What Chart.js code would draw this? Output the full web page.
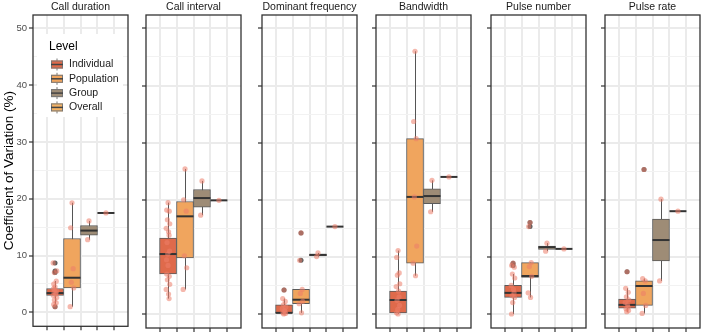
<!DOCTYPE html>
<html>
<head>
<meta charset="utf-8">
<script src="https://cdn.jsdelivr.net/npm/chart.js@4/dist/chart.umd.min.js"></script>
<style>
  body { margin: 0; background: #fff; }
  #wrap { position: relative; width: 709px; height: 334px; overflow: hidden; }
  #wrap canvas { position: absolute; top: 0; }
</style>
</head>
<body>
<div id="wrap"></div>
<script>
var panels = ['Call duration', 'Call interval', 'Dominant frequency', 'Bandwidth', 'Pulse number', 'Pulse rate'];
var levels = ['Individual', 'Population', 'Group', 'Overall'];
var levelColors = ['#DF6A4B', '#F0A55E', '#9E8C76', '#F4B365'];

// box stats per panel, one value per level
var q1 = [
    [3.0, 4.3, 13.6, 17.5],
    [7.0, 9.8, 18.7, 19.9],
    [0.0, 1.8, 10.15, 15.3],
    [0.0, 8.9, 19.3, 24.0],
    [2.9, 6.4, 11.3, 11.4],
    [1.0, 1.5, 9.3, 18.0]
];
var median = [
    [3.4, 6.1, 14.4, 17.5],
    [10.5, 17.1, 20.3, 19.9],
    [0.2, 2.5, 10.35, 15.3],
    [2.45, 20.5, 20.65, 24.0],
    [3.7, 6.65, 11.7, 11.4],
    [1.6, 4.9, 12.95, 18.0]
];
var q3 = [
    [4.2, 13.0, 15.3, 17.5],
    [13.3, 19.7, 21.8, 19.9],
    [1.6, 4.3, 10.5, 15.3],
    [4.0, 30.7, 21.9, 24.0],
    [5.0, 9.0, 11.9, 11.4],
    [2.6, 5.8, 16.6, 18.0]
];
var whiskerLow = [
    [1.4, 1.0, 12.8, 17.5],
    [2.7, 4.3, 17.3, 19.9],
    [0.0, 0.2, 10.05, 15.3],
    [0.0, 6.7, 17.9, 24.0],
    [0.0, 2.9, 11.0, 11.4],
    [0.4, 0.1, 5.8, 18.0]
];
var whiskerHigh = [
    [5.5, 19.3, 16.1, 17.5],
    [19.5, 25.4, 23.3, 19.9],
    [2.7, 4.3, 10.7, 15.3],
    [11.1, 46.0, 23.4, 24.0],
    [7.0, 9.0, 12.4, 11.4],
    [4.5, 6.2, 20.1, 18.0]
];
var outliers = [
    [[8.7, 7.3, 7.0, 1.0], [], [], []],
    [[], [], [], []],
    [[4.2], [14.2, 9.4], [], []],
    [[], [], [], []],
    [[8.9, 8.5], [16.0, 15.3], [], []],
    [[7.4], [25.3], [], []]
];
// raw observations drawn on top
var points = [
    [[1.0, 1.4, 1.7, 2.2, 2.6, 3.0, 3.2, 3.4, 3.6, 3.8, 4.0, 4.2, 4.5, 5.0, 5.5, 7.0, 7.3, 8.7], [19.3, 14.9, 7.7, 5.3, 4.3, 1.0], [16.1, 12.8], [17.5]],
    [[19.5, 18.2, 18.0, 16.5, 15.8, 15.0, 14.4, 13.8, 12.5, 11.0, 10.5, 9.5, 8.5, 7.0, 6.6, 6.0, 5.2, 4.3, 3.5, 2.7], [25.4, 20.0, 18.0, 10.2, 8.1, 4.3], [23.3, 17.3], [19.9]],
    [[4.2, 2.7, 2.2, 1.6, 1.2, 0.9, 0.6, 0.4, 0.2, 0.1, 0.0], [14.2, 9.4, 4.3, 3.6, 2.2, 1.8, 0.2], [10.7, 10.05], [15.3]],
    [[11.1, 9.9, 7.2, 6.8, 5.3, 4.8, 4.0, 3.0, 2.4, 1.5, 0.8, 0.2, 0.0], [46.0, 33.7, 30.7, 20.5, 11.9, 8.9, 6.7], [23.4, 17.9], [24.0]],
    [[8.9, 8.5, 8.2, 7.0, 6.3, 5.0, 4.3, 3.7, 3.2, 2.9, 2.0, 0.0], [16.0, 15.3, 9.0, 8.3, 6.6, 3.7, 2.9], [12.4, 11.0], [11.4]],
    [[7.4, 4.5, 3.8, 3.0, 2.5, 2.0, 1.6, 1.2, 0.9, 0.6, 0.4], [25.3, 6.2, 5.8, 3.6, 1.5, 0.1], [20.1, 5.8], [18.0]]
];
var yTicks = [0, 5, 10, 15, 20, 25, 30, 35, 40, 45, 50];
var yTitle = 'Coefficient of Variation (%)';
var legendTitle = 'Level';

// small fixed horizontal spread for the raw points (category units)
var jitter = [0, -0.08, 0.07, -0.04, 0.1, -0.11, 0.03, 0.06, -0.06, 0.09, -0.02, -0.09];

var panelLeft = [33, 146, 262, 376, 491, 605];
var panelWidth = 97;

Chart.defaults.font.family = "'Liberation Sans', Arial, sans-serif";

function isMajor(v) { return v % 10 === 0; }

function makePlugin(p) {
    return {
        id: 'boxExtras' + p,
        beforeDatasetDraw: function(chart, args) {
            if (args.meta.type !== 'bar') return;
            var xs = chart.scales.x, ys = chart.scales.y, ctx = chart.ctx;
            ctx.save();
            ctx.strokeStyle = '#555';
            ctx.lineWidth = 1;
            for (var j = 0; j < levels.length; j++) {
                var px = Math.round(xs.getPixelForValue(j)) + 0.5;
                ctx.beginPath();
                ctx.moveTo(px, ys.getPixelForValue(whiskerLow[p][j]));
                ctx.lineTo(px, ys.getPixelForValue(whiskerHigh[p][j]));
                ctx.stroke();
            }
            ctx.restore();
        },
        afterDatasetDraw: function(chart, args) {
            if (args.meta.type !== 'bar') return;
            var xs = chart.scales.x, ys = chart.scales.y, ctx = chart.ctx;
            ctx.save();
            ctx.strokeStyle = '#333';
            ctx.lineWidth = 2;
            for (var j = 0; j < levels.length; j++) {
                var px = xs.getPixelForValue(j);
                var py = ys.getPixelForValue(median[p][j]);
                ctx.beginPath();
                ctx.moveTo(px - 8.5, py);
                ctx.lineTo(px + 8.5, py);
                ctx.stroke();
            }
            ctx.restore();
        },
        afterDraw: function(chart) {
            var a = chart.chartArea, ctx = chart.ctx;
            ctx.save();
            if (p === 0) {
                // legend inside the first panel
                ctx.fillStyle = '#fff';
                ctx.fillRect(a.left + 4, 34, 86, 83);
                ctx.fillStyle = '#000';
                ctx.font = "12px 'Liberation Sans', Arial, sans-serif";
                ctx.textBaseline = 'middle';
                ctx.fillText(legendTitle, a.left + 16, 47);
                ctx.font = "10.5px 'Liberation Sans', Arial, sans-serif";
                for (var j = 0; j < levels.length; j++) {
                    var cy = 64.5 + j * 14.3;
                    var kx = a.left + 18;
                    ctx.strokeStyle = '#777';
                    ctx.lineWidth = 1;
                    ctx.beginPath();
                    ctx.moveTo(kx + 6, cy - 6);
                    ctx.lineTo(kx + 6, cy + 6);
                    ctx.stroke();
                    ctx.fillStyle = levelColors[j];
                    ctx.fillRect(kx, cy - 4, 12, 8);
                    ctx.strokeRect(kx + 0.5, cy - 3.5, 11, 7);
                    ctx.strokeStyle = '#444';
                    ctx.lineWidth = 1.5;
                    ctx.beginPath();
                    ctx.moveTo(kx, cy);
                    ctx.lineTo(kx + 12, cy);
                    ctx.stroke();
                    ctx.fillStyle = '#1a1a1a';
                    ctx.fillText(levels[j], kx + 18, cy);
                }
            }
            ctx.strokeStyle = '#333';
            ctx.lineWidth = 1.3;
            ctx.strokeRect(a.left, a.top, a.right - a.left, a.bottom - a.top);
            ctx.restore();
        }
    };
}

function buildPanel(p) {
    var axisW = p === 0 ? 33 : 5;
    var canvas = document.createElement('canvas');
    canvas.width = axisW + panelWidth + 2;
    canvas.height = 334;
    canvas.style.left = (panelLeft[p] - axisW) + 'px';
    document.getElementById('wrap').appendChild(canvas);

    var boxData = [], outlierData = [], pointData = [];
    for (var j = 0; j < levels.length; j++) {
        boxData.push({ x: j, y: [q1[p][j], q3[p][j]] });
        outliers[p][j].forEach(function(v) { outlierData.push({ x: j, y: v }); });
        points[p][j].forEach(function(v, k) {
            var dx = points[p][j].length > 1 ? jitter[k % jitter.length] : 0;
            pointData.push({ x: j + dx, y: v });
        });
    }

    new Chart(canvas.getContext('2d'), {
        type: 'bar',
        data: {
            datasets: [{
                type: 'bar',
                data: boxData,
                backgroundColor: levelColors,
                borderColor: '#5a5a5a',
                borderWidth: 1,
                borderSkipped: false,
                barThickness: 17,
                order: 3
            }, {
                type: 'scatter',
                data: outlierData,
                pointRadius: 2.5,
                pointBackgroundColor: 'rgba(40,40,40,0.75)',
                pointBorderWidth: 0,
                order: 2
            }, {
                type: 'scatter',
                data: pointData,
                pointRadius: 2.6,
                pointBackgroundColor: 'rgba(236,125,105,0.55)',
                pointBorderWidth: 0,
                order: 1
            }]
        },
        options: {
            responsive: false,
            animation: false,
            layout: { padding: { left: 0, right: 2, top: 0, bottom: 0 } },
            plugins: {
                legend: { display: false },
                tooltip: { enabled: false },
                title: {
                    display: true,
                    fullSize: false,
                    text: panels[p],
                    color: '#1a1a1a',
                    font: { size: 10.5, weight: 'normal' },
                    padding: { top: 1, bottom: 1.4 }
                }
            },
            scales: {
                x: {
                    type: 'linear',
                    min: -0.6,
                    max: 3.6,
                    afterBuildTicks: function(s) { s.ticks = levels.map(function(l, j) { return { value: j }; }); },
                    afterFit: function(s) { s.height = 6; },
                    ticks: { display: false },
                    border: { display: false },
                    grid: { color: '#EBEBEB', lineWidth: 2, tickColor: '#333', tickWidth: 1.2, tickLength: 4 }
                },
                y: {
                    min: -2.45,
                    max: 52.35,
                    afterBuildTicks: function(s) { s.ticks = yTicks.map(function(v) { return { value: v }; }); },
                    afterFit: function(s) { s.width = axisW; },
                    border: { display: false },
                    ticks: {
                        display: p === 0,
                        color: '#4D4D4D',
                        font: { size: 9.5 },
                        padding: 2,
                        callback: function(v) { return isMajor(v) ? v : ''; }
                    },
                    title: {
                        display: p === 0,
                        text: yTitle,
                        color: '#000',
                        font: { size: 13.5 },
                        padding: { top: 1, bottom: 0 }
                    },
                    grid: {
                        color: function(c) { return c.tick && isMajor(c.tick.value) ? '#EBEBEB' : '#F2F2F2'; },
                        lineWidth: function(c) { return c.tick && isMajor(c.tick.value) ? 2 : 1; },
                        tickColor: function(c) { return c.tick && isMajor(c.tick.value) ? '#333' : 'rgba(0,0,0,0)'; },
                        tickWidth: 1.2,
                        tickLength: 4
                    }
                }
            }
        },
        plugins: [makePlugin(p)]
    });
}

for (var p = 0; p < panels.length; p++) {
    buildPanel(p);
}
</script>
</body>
</html>
